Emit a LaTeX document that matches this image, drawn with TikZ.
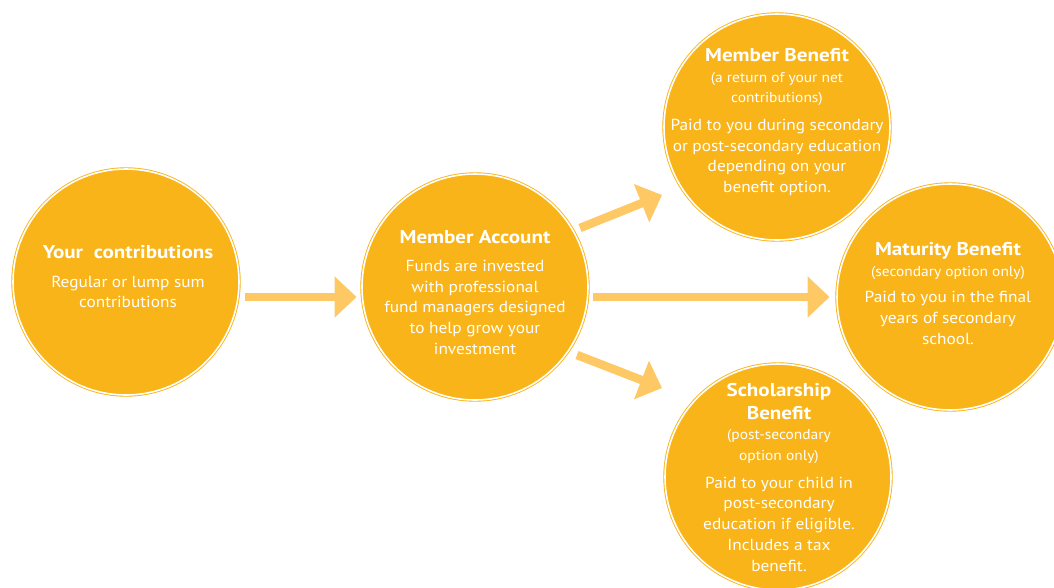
\documentclass[tikz,border=0pt]{standalone}
\usepackage{fontspec}
\setmainfont{PT Sans}[FakeStretch=1.08, BoldFeatures={FakeStretch=1.14}]
\usetikzlibrary{arrows.meta,calc}
\definecolor{cfill}{HTML}{F9B41A}
\definecolor{carrow}{HTML}{FEC865}
\newcommand{\ttlsz}{\fontsize{18.5}{22}\selectfont\bfseries}
\newcommand{\subsz}{\fontsize{14.3}{16}\selectfont}
\begin{document}
\begin{tikzpicture}[x=1pt,y=-1pt,
  bubble/.style={circle, minimum size=226pt, inner sep=0pt, fill=cfill, draw=cfill, double=white, double distance=1.6pt, line width=0.9pt},
  txt/.style={anchor=north, inner sep=0pt, align=center, text=white, font=\fontsize{16}{20.7}\selectfont},
  arr/.style={draw=carrow, line width=8.5pt, -{Triangle[length=22pt,width=40pt]}}
]
\useasboundingbox (0,0) rectangle (1054,587);
\clip (0,0) rectangle (1054,587);
\node[bubble] (c1) at (126,282) {};
\node[bubble] (c2) at (475,287) {};
\node[bubble] (mb) at (777,127) {};
\node[bubble] (mat) at (950,297) {};
\node[bubble] (sch) at (778,477) {};

\node[txt] (t1) at ($(c1)+(2,-37)$) {{\ttlsz Your\ \ contributions}\\[8pt]Regular or lump sum\\contributions};
\node[txt] (t2) at ($(c2)+(0,-57)$) {{\ttlsz Member Account}\\[7.5pt]Funds are invested\\with professional\\fund managers designed\\to help grow your\\investment};
\node[txt] (t3) at ($(mb)+(0,-79)$) {{\ttlsz Member Benefit}\\{\subsz (a return of your net}\\{\subsz contributions)}\\[7pt]Paid to you during secondary\\or post-secondary education\\depending on your\\benefit option.};
\node[txt] (t4) at ($(mat)+(-2,-55)$) {{\ttlsz Maturity Benefit}\\{\subsz (secondary option only)}\\[6pt]Paid to you in the final\\years of secondary\\school.};
\node[txt] (t5) at ($(sch)+(1,-94)$) {{\ttlsz Scholarship}\\[2pt]{\ttlsz Benefit}\\{\subsz (post-secondary}\\{\subsz option only)}\\[7pt]Paid to your child in\\post-secondary\\education if eligible.\\Includes a tax\\benefit.};

\draw[arr] ($(c1.east)+(6,15)$) -- ($(c2.west)+(-5,10)$);
\draw[arr] ($(c2.east)+(5,10)$) -- ($(mat.west)+(-7,0)$);
\draw[arr] ($(c2)+(105,-59)$) -- ($(mb)+(-115,68)$);
\draw[arr] ($(c2)+(102,68)$) -- ($(sch)+(-116,-89)$);
\end{tikzpicture}
\end{document}
